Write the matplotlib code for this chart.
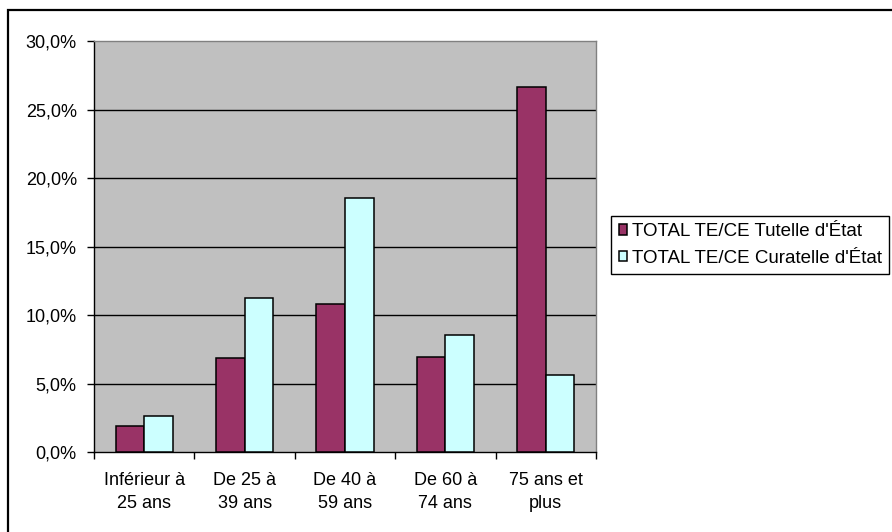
import matplotlib
matplotlib.use("Agg")
import matplotlib.pyplot as plt
from matplotlib.patches import Rectangle
from matplotlib.ticker import FixedLocator, FuncFormatter

plt.rcParams["font.family"] = ["Liberation Sans", "DejaVu Sans"]

categories = ["Inférieur à\n25 ans", "De 25 à\n39 ans", "De 40 à\n59 ans",
              "De 60 à\n74 ans", "75 ans et\nplus"]
tutelle = [1.93, 6.89, 10.81, 6.97, 26.61]
curatelle = [2.68, 11.22, 18.55, 8.58, 5.65]
series_names = ["TOTAL TE/CE Tutelle d'État", "TOTAL TE/CE Curatelle d'État"]

PURPLE = "#993366"
CYAN = "#CCFFFF"
W, H = 892, 532
FS = 13

fig = plt.figure(figsize=(W / 100, H / 100), dpi=100)

# outer chart frame (only top and left edges fall inside the image)
fig.patches.append(Rectangle((8 / W, -0.2), 2.0, (H - 10) / H + 0.2,
                             transform=fig.transFigure, fill=False,
                             ec="black", lw=1.6))

ax = fig.add_axes([94 / W, (H - 452.3) / H, 502 / W, 411.3 / H])
ax.set_facecolor("#C0C0C0")

n = len(categories)
bw = 1 / 3.5
xs = list(range(n))
ax.bar([x - bw / 2 for x in xs], tutelle, width=bw, color=PURPLE,
       edgecolor="black", lw=1.1, zorder=3, label=series_names[0])
ax.bar([x + bw / 2 for x in xs], curatelle, width=bw, color=CYAN,
       edgecolor="black", lw=1.1, zorder=3, label=series_names[1])

ax.set_xlim(-0.5, n - 0.5)
ax.set_ylim(0, 30)

for y in range(5, 30, 5):
    ax.axhline(y, color="black", lw=1.0, zorder=1)

ax.yaxis.set_major_locator(FixedLocator(range(0, 31, 5)))
ax.yaxis.set_major_formatter(FuncFormatter(lambda v, p: f"{v:.1f}%".replace(".", ",")))
ax.tick_params(axis="y", direction="out", length=5, width=1.0, pad=7.4,
               labelsize=FS, colors="black")

ax.xaxis.set_major_locator(FixedLocator([i - 0.5 for i in range(n + 1)]))
ax.xaxis.set_major_formatter(FuncFormatter(lambda v, p: ""))
ax.xaxis.set_minor_locator(FixedLocator(xs))
ax.set_xticklabels(categories, minor=True, linespacing=1.5)
ax.tick_params(axis="x", which="major", direction="out", length=5, width=1.0)
ax.tick_params(axis="x", which="minor", length=0, pad=14, labelsize=FS)

for side in ("left", "bottom"):
    ax.spines[side].set_color("black")
    ax.spines[side].set_linewidth(1.0)
for side in ("top", "right"):
    ax.spines[side].set_color("#808080")
    ax.spines[side].set_linewidth(1.0)

leg = fig.legend(loc="upper left", bbox_to_anchor=(611 / W, 1 - 215.7 / H),
                 fontsize=13.5, frameon=True, fancybox=False, framealpha=1,
                 edgecolor="black", handlelength=0.45, handleheight=0.45,
                 handletextpad=0.25, borderpad=0.4, labelspacing=0.5,
                 borderaxespad=0)
leg.get_frame().set_linewidth(1.0)

fig.savefig("out.png", dpi=100)
